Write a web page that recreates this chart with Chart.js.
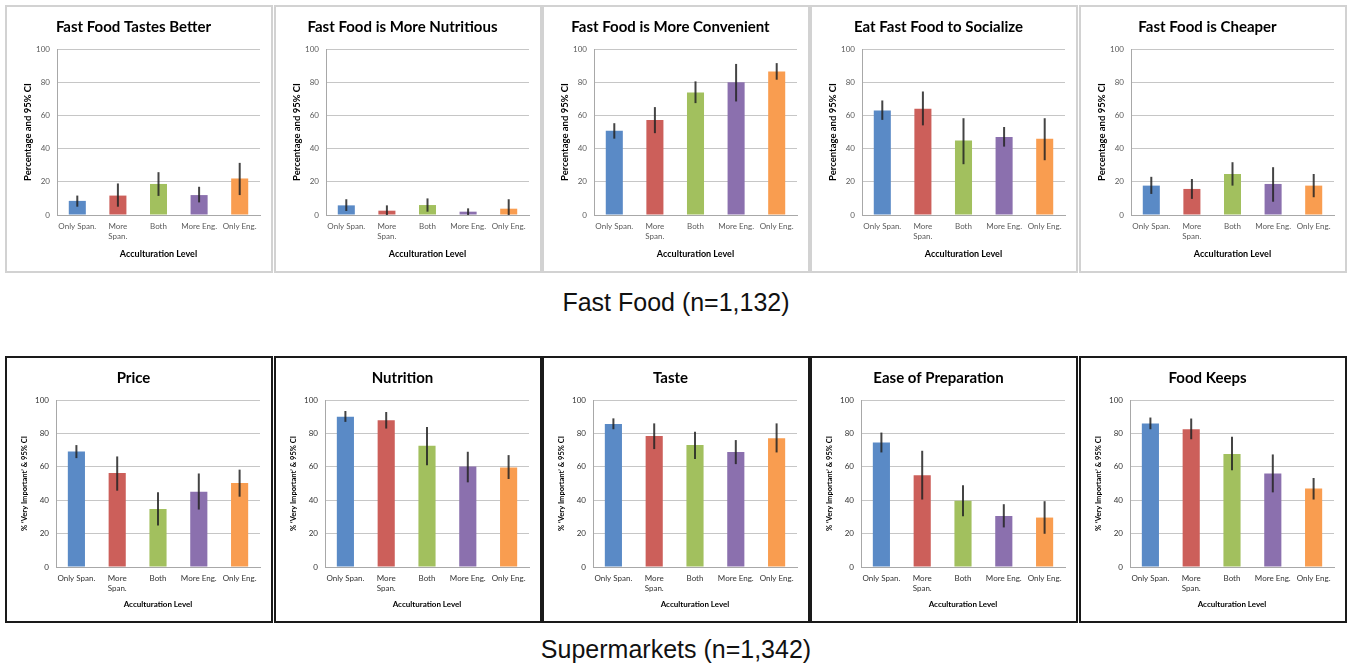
<!DOCTYPE html>
<html>
<head>
<meta charset="utf-8">
<script src="https://cdn.jsdelivr.net/npm/chart.js@4"></script>
<style>
  body { margin: 0; width: 1351px; height: 667px; background: #fff; position: relative; overflow: hidden; }
  .panel { position: absolute; box-sizing: border-box; width: 268px; background: #fff; }
  .panel canvas { display: block; }
  .top { top: 5px; height: 268px; border: 2px solid #d2d2d2; }
  .bot { top: 356px; height: 267px; border: 2px solid #1a1a1a; }
  .caption { position: absolute; left: 0; width: 1352px; text-align: center; font-family: 'Liberation Sans', Arial, sans-serif; font-size: 25px; line-height: 30px; color: #111; }
</style>
</head>
<body>
<div id="charts"></div>
<div class="caption" style="top:287px">Fast Food (n=1,132)</div>
<div class="caption" style="top:634px">Supermarkets (n=1,342)</div>
<script>
// categories and axis ticks shared by all panels
const categories = ['Only Span.', ['More', 'Span.'], 'Both', 'More Eng.', 'Only Eng.'];
const yTickValues = [0, 20, 40, 60, 80, 100];
const barColors = ['#5a8ac6', '#cc5f5a', '#a2c05e', '#8b70ae', '#f99d50'];

// Fast food panels: percentage, lower CI, upper CI
const tastesBetterPct  = [8.5, 11.7, 18.7, 12.0, 22.0];
const tastesBetterLow  = [5.0, 5.0, 11.5, 7.6, 12.0];
const tastesBetterHigh = [11.7, 19.0, 25.8, 17.0, 31.4];

const nutritiousPct  = [5.8, 2.6, 6.0, 2.0, 3.8];
const nutritiousLow  = [2.4, 0.0, 2.0, 0.0, 0.0];
const nutritiousHigh = [9.5, 5.8, 10.0, 4.0, 9.5];

const convenientPct  = [50.7, 57.3, 73.8, 80.0, 86.5];
const convenientLow  = [46.0, 49.3, 67.4, 68.4, 81.5];
const convenientHigh = [55.3, 65.0, 80.5, 91.0, 91.5];

const socializePct  = [63.0, 64.0, 44.9, 47.0, 45.9];
const socializeLow  = [57.3, 54.0, 30.6, 41.2, 33.0];
const socializeHigh = [69.0, 74.4, 58.3, 53.0, 58.3];

const cheaperPct  = [17.7, 15.7, 24.7, 18.7, 17.7];
const cheaperLow  = [12.7, 9.7, 17.7, 8.0, 10.7];
const cheaperHigh = [23.0, 21.7, 31.8, 28.8, 24.7];

// Supermarket panels
const pricePct  = [69.2, 56.3, 34.8, 45.1, 50.3];
const priceLow  = [65.2, 45.7, 24.9, 34.4, 42.1];
const priceHigh = [73.0, 66.2, 44.7, 56.0, 58.3];

const nutritionPct  = [90.0, 87.9, 72.6, 60.2, 59.6];
const nutritionLow  = [86.9, 82.9, 61.0, 50.7, 52.7];
const nutritionHigh = [93.4, 92.8, 83.9, 69.0, 67.0];

const tastePct  = [85.7, 78.5, 73.0, 68.8, 77.1];
const tasteLow  = [82.5, 70.6, 64.6, 61.6, 68.6];
const tasteHigh = [89.0, 86.0, 81.0, 76.0, 86.0];

const easePct  = [74.6, 55.0, 39.6, 30.6, 29.6];
const easeLow  = [68.6, 40.4, 30.4, 23.7, 19.9];
const easeHigh = [80.5, 69.6, 49.0, 37.6, 39.4];

const keepsPct  = [85.9, 82.5, 67.6, 56.0, 47.0];
const keepsLow  = [82.5, 76.5, 58.0, 44.7, 40.4];
const keepsHigh = [89.5, 88.9, 78.0, 67.4, 53.3];

const panelLefts = [5, 274, 542, 810, 1079];

const fastFoodPanels = [
    { title: 'Fast Food Tastes Better', pct: tastesBetterPct, low: tastesBetterLow, high: tastesBetterHigh },
    { title: 'Fast Food is More Nutritious', pct: nutritiousPct, low: nutritiousLow, high: nutritiousHigh },
    { title: 'Fast Food is More Convenient', pct: convenientPct, low: convenientLow, high: convenientHigh },
    { title: 'Eat Fast Food to Socialize', pct: socializePct, low: socializeLow, high: socializeHigh },
    { title: 'Fast Food is Cheaper', pct: cheaperPct, low: cheaperLow, high: cheaperHigh }
];
const marketPanels = [
    { title: 'Price', pct: pricePct, low: priceLow, high: priceHigh },
    { title: 'Nutrition', pct: nutritionPct, low: nutritionLow, high: nutritionHigh },
    { title: 'Taste', pct: tastePct, low: tasteLow, high: tasteHigh },
    { title: 'Ease of Preparation', pct: easePct, low: easeLow, high: easeHigh },
    { title: 'Food Keeps', pct: keepsPct, low: keepsLow, high: keepsHigh }
];

// draws the 95% CI as a plain vertical line through each bar
const errorBars = {
    id: 'errorBars',
    afterDatasetsDraw(chart) {
        const ds = chart.data.datasets[0];
        const meta = chart.getDatasetMeta(0);
        const yScale = chart.scales.y;
        const ctx = chart.ctx;
        ctx.save();
        ctx.strokeStyle = 'rgba(35,35,35,0.85)';
        ctx.lineWidth = 2;
        meta.data.forEach(function(bar, i) {
            ctx.beginPath();
            ctx.moveTo(bar.x, yScale.getPixelForValue(ds.low[i]));
            ctx.lineTo(bar.x, yScale.getPixelForValue(ds.high[i]));
            ctx.stroke();
        });
        ctx.restore();
    }
};

function makePanel(panel, left, isTop) {
    const box = document.createElement('div');
    box.className = 'panel ' + (isTop ? 'top' : 'bot');
    box.style.left = left + 'px';
    const canvas = document.createElement('canvas');
    canvas.width = 264;
    canvas.height = isTop ? 264 : 263;
    box.appendChild(canvas);
    document.getElementById('charts').appendChild(box);

    const tickColor = isTop ? '#5a5a5a' : '#333';
    new Chart(canvas.getContext('2d'), {
        type: 'bar',
        data: {
            labels: categories,
            datasets: [{
                data: panel.pct,
                low: panel.low,
                high: panel.high,
                backgroundColor: barColors,
                borderWidth: 0,
                barPercentage: 0.42,
                categoryPercentage: 1
            }]
        },
        options: {
            responsive: false,
            animation: false,
            devicePixelRatio: 1,
            layout: { padding: { top: 0, right: 11, bottom: 0, left: 0 } },
            plugins: {
                legend: { display: false },
                tooltip: { enabled: false },
                title: {
                    display: true,
                    text: panel.title,
                    color: '#000',
                    font: { family: 'Lato', size: 15, weight: 'bold' },
                    padding: { top: 11, bottom: 13 }
                }
            },
            scales: {
                x: {
                    grid: { display: false, drawTicks: false },
                    border: { color: '#a8a8a8' },
                    ticks: { padding: 7, color: tickColor, maxRotation: 0, autoSkip: false,
                             font: { family: 'Lato', size: 8 } },
                    title: {
                        display: true,
                        text: 'Acculturation Level',
                        color: '#000',
                        font: { family: 'Lato', size: isTop ? 9 : 8, weight: 'bold' },
                        padding: { top: 12, bottom: 12 }
                    },
                    afterFit: function(scale) { scale.height = isTop ? 56 : 54; }
                },
                y: {
                    min: 0,
                    max: 100,
                    afterBuildTicks: function(scale) {
                        scale.ticks = yTickValues.map(v => ({ value: v }));
                    },
                    grid: { color: '#c6c6c6', lineWidth: 1, drawTicks: false },
                    border: { color: '#a8a8a8' },
                    ticks: { padding: 7, color: tickColor, font: { family: 'Lato', size: 8 } },
                    title: {
                        display: true,
                        text: isTop ? 'Percentage and 95% CI' : '% \u2018Very Important\u2019 & 95% CI',
                        color: '#000',
                        font: { family: 'Lato', size: isTop ? 9.5 : 7.5, weight: 'bold' },
                        padding: isTop ? 15 : 13
                    },
                    afterFit: function(scale) { scale.width = isTop ? 50 : 49; }
                }
            }
        },
        plugins: [errorBars]
    });
}

fastFoodPanels.forEach((p, i) => makePanel(p, panelLefts[i], true));
marketPanels.forEach((p, i) => makePanel(p, panelLefts[i], false));
</script>
</body>
</html>
